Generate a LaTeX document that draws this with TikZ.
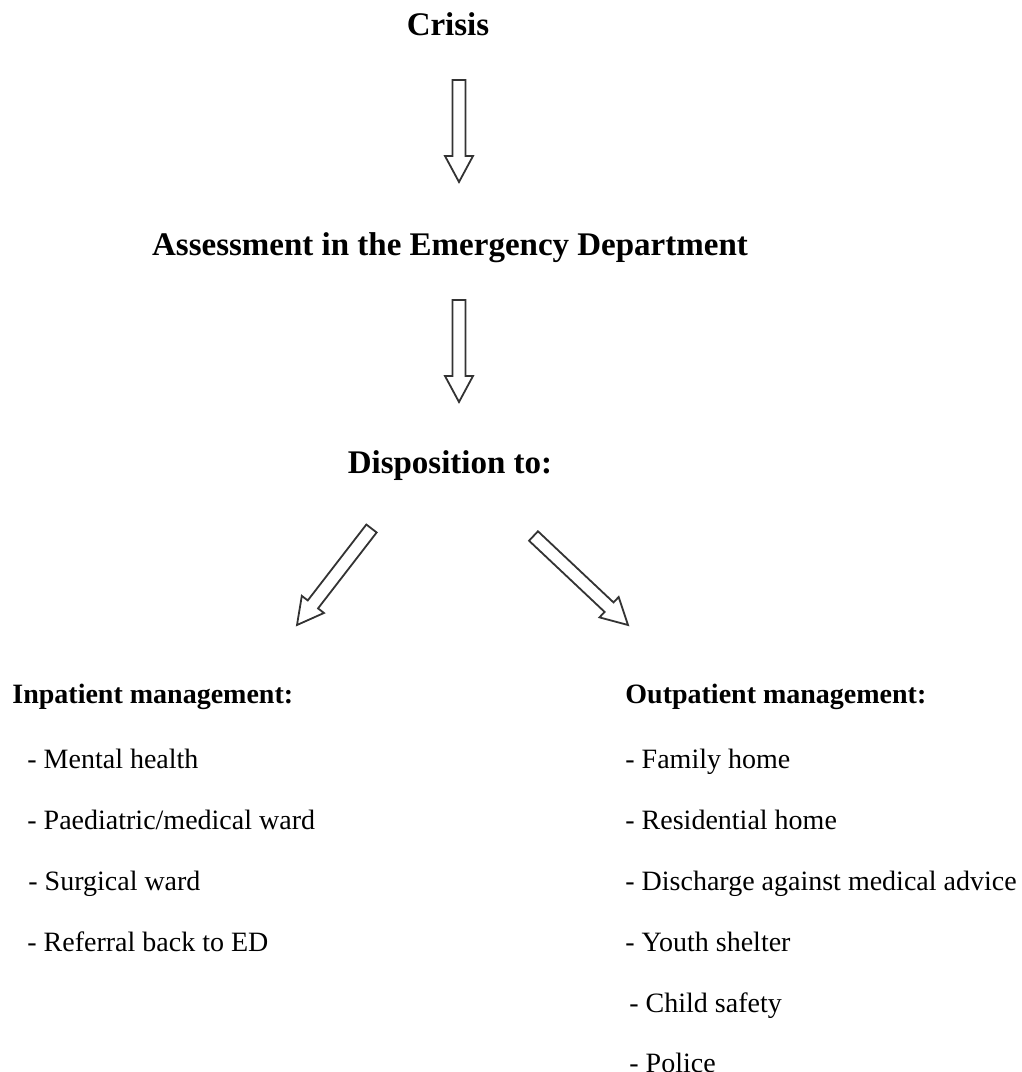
\documentclass[tikz,border=0pt]{standalone}
\usepackage{fontspec}
\setmainfont{Liberation Serif}
\usetikzlibrary{positioning, calc}
\tikzset{
  title/.style={font=\fontsize{16.5}{20}\selectfont\bfseries, inner sep=0pt, anchor=base},
  listhead/.style={font=\fontsize{14}{17}\selectfont\bfseries, inner sep=0pt, text height=10pt, text depth=1.5pt, anchor=west},
  listitem/.style={font=\fontsize{14}{17}\selectfont, inner sep=0pt, text height=10pt, text depth=1.5pt},
  hollowarrow/.style={draw=black!80, line width=0.9pt, fill=white, line join=miter}
}
\newcommand{\blockarrow}[2]{%
  \coordinate (#1-neck) at ($(#2)!13pt!(#1)$);
  \draw[hollowarrow] ($(#1)!3.25pt!90:(#2)$) -- ($(#1-neck)!3.25pt!90:(#2)$)
    -- ($(#1-neck)!7pt!90:(#2)$) -- (#2) -- ($(#1-neck)!7pt!-90:(#2)$)
    -- ($(#1-neck)!3.25pt!-90:(#2)$) -- ($(#1)!3.25pt!-90:(#2)$) -- cycle;
}
\begin{document}
\begin{tikzpicture}[x=0.5pt, y=-0.5pt, node distance=18.5pt]
  \useasboundingbox (0,0) rectangle (1022,1072);
  \node[title] (crisis) at (448,35) {Crisis};
  \node[title] (assess) at (450,255) {Assessment in the Emergency Department};
  \node[title] (dispo) at (450,473) {Disposition to:};
  \node[listhead] (inpat) at (12,694.5) {Inpatient management:};
  \node[listhead] (outpat) at (625,694.5) {Outpatient management:};
  \node[listitem, below=21pt of inpat.south west, anchor=north west, xshift=7.5pt] (mental) {- Mental health};
  \node[listitem, below=of mental.south west, anchor=north west] (paed) {- Paediatric/medical ward};
  \node[listitem, below=of paed.south west, anchor=north west, xshift=0.5pt] (surg) {- Surgical ward};
  \node[listitem, below=of surg.south west, anchor=north west, xshift=-0.5pt] (referral) {- Referral back to ED};
  \node[listitem, below=21pt of outpat.south west, anchor=north west] (family) {- Family home};
  \node[listitem, below=of family.south west, anchor=north west] (resid) {- Residential home};
  \node[listitem, below=of resid.south west, anchor=north west] (discharge) {- Discharge against medical advice};
  \node[listitem, below=of discharge.south west, anchor=north west] (youth) {- Youth shelter};
  \node[listitem, below=of youth.south west, anchor=north west, xshift=2pt] (child) {- Child safety};
  \node[listitem, below=of child.south west, anchor=north west] (police) {- Police};
  \coordinate (a1) at (459,80);
  \coordinate (a1h) at (459,182);
  \coordinate (a2) at (459,300);
  \coordinate (a2h) at (459,402);
  \coordinate (a3) at (371.5,528.5);
  \coordinate (a3h) at (297,625);
  \coordinate (a4) at (533.5,536);
  \coordinate (a4h) at (628,625);
  \blockarrow{a1}{a1h}
  \blockarrow{a2}{a2h}
  \blockarrow{a3}{a3h}
  \blockarrow{a4}{a4h}
\end{tikzpicture}
\end{document}
